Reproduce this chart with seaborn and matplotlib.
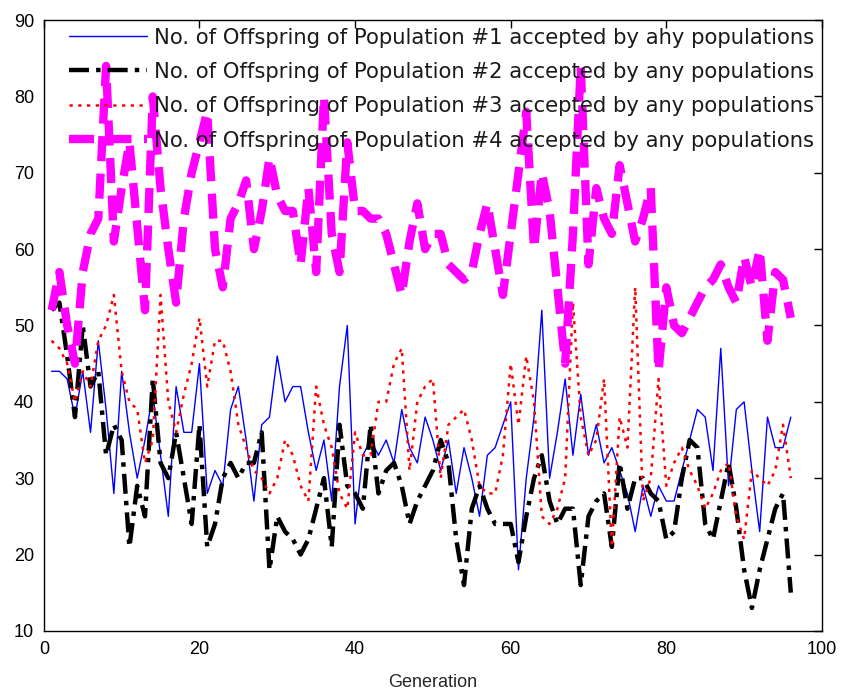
import matplotlib
matplotlib.use("Agg")
import matplotlib.pyplot as plt
import seaborn as sns
import pandas as pd

generation = list(range(1, 97))

pop1 = [44, 44, 43, 38, 44, 36, 48, 39, 28, 44,
        36, 30, 35, 41, 33, 25, 42, 36, 36, 45,
        28, 31, 29, 39, 42, 35, 27, 37, 38, 46,
        40, 42, 42, 36, 31, 35, 27, 42, 50, 24,
        33, 35, 33, 35, 32, 39, 34, 32, 38, 35,
        31, 35, 28, 34, 30, 25, 33, 34, 37, 40,
        18, 30, 38, 52, 30, 36, 43, 33, 41, 33,
        37, 32, 34, 31, 28, 23, 29, 25, 29, 27,
        27, 31, 35, 39, 38, 31, 47, 29, 39, 40,
        31, 23, 38, 34, 34, 38]

pop2 = [52, 53, 46, 38, 50, 42, 44, 33, 37, 35,
        21, 29, 25, 43, 32, 30, 36, 30, 24, 37,
        21, 24, 30, 32, 30, 32, 32, 36, 18, 25,
        23, 22, 20, 22, 26, 30, 21, 37, 29, 28,
        26, 37, 28, 31, 32, 29, 24, 27, 29, 31,
        35, 32, 22, 16, 26, 29, 26, 24, 24, 24,
        19, 25, 30, 33, 27, 24, 26, 26, 16, 25,
        27, 28, 21, 32, 26, 30, 30, 28, 27, 22,
        23, 30, 35, 34, 24, 22, 27, 32, 26, 18,
        13, 18, 22, 26, 28, 15]

pop3 = [48, 47, 45, 40, 44, 42, 48, 50, 54, 44,
        40, 39, 32, 35, 54, 40, 36, 41, 45, 51,
        42, 48, 48, 44, 37, 34, 31, 30, 28, 30,
        35, 33, 29, 27, 42, 37, 34, 28, 26, 36,
        33, 33, 40, 40, 45, 47, 31, 40, 42, 43,
        30, 37, 38, 39, 35, 29, 28, 28, 33, 45,
        37, 46, 40, 25, 24, 26, 30, 53, 38, 33,
        35, 43, 21, 38, 34, 55, 27, 30, 43, 29,
        32, 34, 31, 29, 26, 28, 31, 32, 25, 22,
        31, 30, 29, 31, 37, 30]

pop4 = [52, 57, 50, 45, 57, 62, 64, 84, 61, 68,
        74, 63, 52, 80, 68, 60, 53, 64, 70, 74,
        78, 60, 55, 64, 66, 69, 60, 65, 72, 67,
        65, 65, 58, 68, 57, 80, 62, 57, 74, 65,
        65, 64, 64, 62, 58, 54, 61, 66, 60, 62,
        62, 58, 57, 56, 57, 62, 66, 60, 54, 62,
        70, 78, 60, 70, 65, 55, 45, 62, 84, 58,
        68, 64, 62, 71, 66, 61, 64, 68, 44, 55,
        50, 49, 51, 53, 55, 56, 58, 55, 53, 59,
        55, 60, 48, 57, 56, 51]

labels = [
    "No. of Offspring of Population #1 accepted by ahy populations",
    "No. of Offspring of Population #2 accepted by any populations",
    "No. of Offspring of Population #3 accepted by any populations",
    "No. of Offspring of Population #4 accepted by any populations",
]
x_ticks = [0, 20, 40, 60, 80, 100]
y_ticks = [10, 20, 30, 40, 50, 60, 70, 80, 90]

sns.set_style("white")
plt.rcParams["font.family"] = ["Liberation Sans", "DejaVu Sans"]

fig = plt.figure(figsize=(8.43, 6.94), dpi=100)
ax = fig.add_axes([0.052, 0.091, 0.923, 0.880])

styles = [
    dict(color="#0000ff", linewidth=1.0, linestyle="-"),
    dict(color="black", linewidth=3.2, linestyle=(0, (4.5, 1.6, 1.0, 1.6))),
    dict(color="#ff0000", linewidth=1.8, linestyle=(0, (1.3, 2.2))),
    dict(color="#ff00ff", linewidth=6.0, linestyle=(0, (3.0, 1.5))),
]

for series, lab, st in zip([pop1, pop2, pop3, pop4], labels, styles):
    df = pd.DataFrame({"Generation": generation, "value": series})
    sns.lineplot(data=df, x="Generation", y="value", ax=ax, label=lab, **st)

ax.set_xlim(0, 100)
ax.set_ylim(10, 90)
ax.set_xticks(x_ticks)
ax.set_yticks(y_ticks)
ax.set_xlabel("Generation", fontsize=13, labelpad=12)
ax.set_ylabel("")
ax.tick_params(direction="in", top=True, right=True, length=6, width=1,
               labelsize=13, colors="black", pad=7)
for sp in ax.spines.values():
    sp.set_color("black")
    sp.set_linewidth(1.0)

leg = ax.legend(loc="upper right", bbox_to_anchor=(1.0, 1.0), frameon=False,
                prop={"family": ["DejaVu Sans"], "size": 15.2},
                handlelength=3.7, handletextpad=0.33,
                labelspacing=0.68, borderaxespad=0.0, borderpad=0.35)
for t in leg.get_texts():
    t.set_color("#1a1a1a")

fig.savefig("out.png", dpi=100, facecolor="white")
